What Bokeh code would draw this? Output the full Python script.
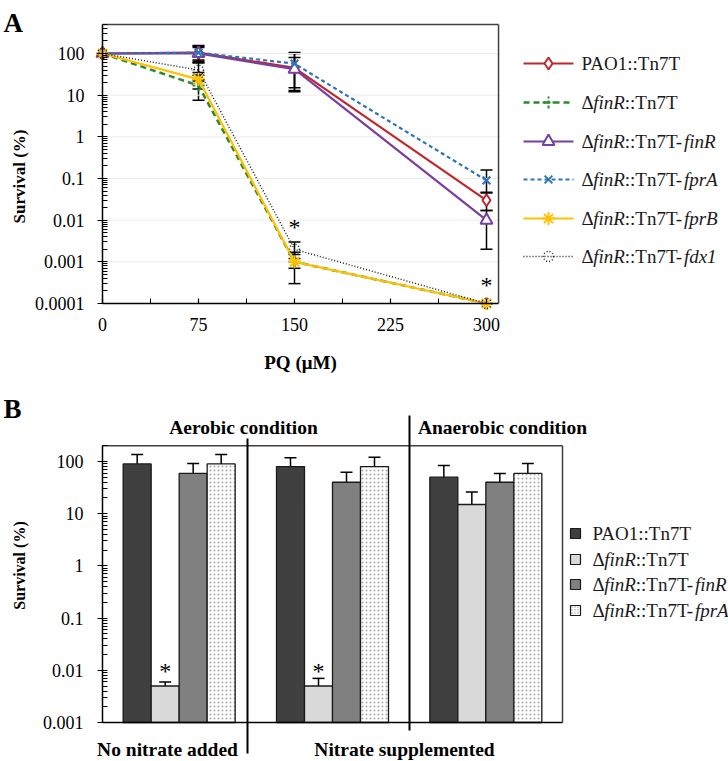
import math
from bokeh.plotting import figure
from bokeh.models import (Range1d, FixedTicker, CustomJSTickFormatter, ColumnDataSource,
                          Whisker, TeeHead)
from bokeh.layouts import column
from bokeh.embed import file_html
from bokeh.resources import INLINE
from bokeh.core.properties import value

FONT = "Liberation Serif"

# ---------------- Panel A data ----------------
pq_um = [0, 75, 150, 300]
pq_ticks = [0, 75, 150, 225, 300]
pq_minor = [37.5, 112.5, 187.5, 262.5]
a_labels = ["PAO1::Tn7T", "Δ_finR_::Tn7T", "Δ_finR_::Tn7T-_finR_",
            "Δ_finR_::Tn7T-_fprA_", "Δ_finR_::Tn7T-_fprB_", "Δ_finR_::Tn7T-_fdx1_"]
surv_pao1 = [100, 105, 45, 0.03]
lo_pao1 = [100, 60, 13, 0.017]
hi_pao1 = [100, 150, 100, 0.047]
surv_dfinr = [100, 17, 0.001, 0.0001]
lo_dfinr = [100, 7.5, 0.0003, 0.0001]
hi_dfinr = [100, 30, 0.0017, 0.0001]
surv_finr = [100, 100, 42, 0.01]
lo_finr = [100, 65, 12, 0.002]
hi_finr = [100, 140, 80, 0.017]
surv_fpra = [100, 105, 57, 0.09]
lo_fpra = [100, 70, 15, 0.045]
hi_fpra = [100, 155, 105, 0.16]
surv_fprb = [100, 24, 0.001, 0.0001]
lo_fprb = [100, 14, 0.0007, 0.0001]
hi_fprb = [100, 35, 0.0015, 0.0001]
surv_fdx1 = [100, 40, 0.002, 0.0001]
lo_fdx1 = [100, 22, 0.0012, 0.0001]
hi_fdx1 = [100, 60, 0.003, 0.0001]
sig_a_x = [150, 300]
sig_a_y = [0.0074, 0.0003]

y_ticks_a = [0.0001, 0.001, 0.01, 0.1, 1, 10, 100]
y_labels_a = ["0.0001", "0.001", "0.01", "0.1", "1", "10", "100"]

# ---------------- Panel B data ----------------
b_groups = ["No nitrate added", "Nitrate supplemented", "Anaerobic condition"]
b_labels = ["PAO1::Tn7T", "Δ_finR_::Tn7T", "Δ_finR_::Tn7T-_finR_", "Δ_finR_::Tn7T-_fprA_"]
b_pao1 = [90, 80, 50]
b_pao1_lo = [47, 43, 16.5]
b_pao1_hi = [136, 118, 84]
b_dfinr = [0.005, 0.005, 15]
b_dfinr_lo = [0.004, 0.003, 4.4]
b_dfinr_hi = [0.006, 0.007, 26]
b_finr = [59, 40, 40]
b_finr_lo = [30, 19, 20]
b_finr_hi = [92, 62, 59]
b_fpra = [90, 80, 59]
b_fpra_lo = [45, 38, 29]
b_fpra_hi = [136, 120, 92]
b_sig_group = [0, 1]
b_sig_y = [0.0107, 0.0107]
y_ticks_b = [0.001, 0.01, 0.1, 1, 10, 100]
y_labels_b = ["0.001", "0.01", "0.1", "1", "10", "100"]
b_top_labels = ["Aerobic condition", "Anaerobic condition"]
b_bottom_labels = ["No nitrate added", "Nitrate supplemented"]

# ---------------- helpers ----------------
REG = {' ': 250, '(': 333, ')': 333, '-': 333, '.': 250, ':': 278, '0': 500, '1': 500, '7': 500,
       'A': 722, 'O': 722, 'P': 556, 'T': 611, 'n': 500, 'R': 667, 'f': 333, 'i': 278, 'Δ': 612}
ITA = {'f': 278, 'i': 278, 'n': 500, 'R': 611, 'p': 500, 'r': 389, 'A': 611, 'B': 611,
       'd': 500, 'x': 444, '1': 500}


def runs(label, x, y, size, out):
    parts = label.split("_")
    off = 0.0
    for k, part in enumerate(parts):
        if not part:
            continue
        ital = k % 2 == 1
        tab = ITA if ital else REG
        out["x"].append(x)
        out["y"].append(y)
        out["text"].append(part)
        out["xo"].append(off)
        out["style"].append("italic" if ital else "normal")
        off += sum(tab.get(c, 500) for c in part) * size / 1000.0


def log_formatter(vals, labels):
    return CustomJSTickFormatter(args=dict(vals=vals, labels=labels), code="""
        let best = 0, bd = Infinity;
        for (let i = 0; i < vals.length; i++) {
            const d = Math.abs(Math.log10(vals[i]) - Math.log10(tick));
            if (d < bd) { bd = d; best = i; }
        }
        return labels[best];
    """)


def minor_list(lo_exp, hi_val):
    out = []
    for e in range(lo_exp, 4):
        for m in range(2, 10):
            v = m * 10 ** e
            if v <= hi_val:
                out.append(v)
    return out


def style_axis(ax, tick_size="18px"):
    ax.axis_line_color = "black"
    ax.axis_line_width = 1.5
    ax.major_tick_line_color = "black"
    ax.minor_tick_line_color = "black"
    ax.major_tick_line_width = 1.2
    ax.minor_tick_line_width = 1
    ax.major_label_text_font = FONT
    ax.major_label_text_font_size = tick_size
    ax.major_label_text_color = "black"


def txt(p, x, y, text, size, style="normal", align="center", baseline="middle", angle=0.0, **kw):
    p.text(x=x, y=y, text=text, text_font=value(FONT), text_font_size=size,
           text_font_style=style, text_align=align, text_baseline=baseline, angle=angle,
           text_color="black", **kw)


W = 728
# ================= Panel A =================
A_H = 380
AX0, APX = 102, 1.28            # pixel of x=0, pixels per µM
AY100, ADEC = 53, 250 / 6.0     # pixel of y=100, pixels per decade
a_box_x = 309.4
a_box_top = 500


def xa(px):
    return (px - AX0) / APX


def ya(py):
    return 10 ** (2 - (py - AY100) / ADEC)


pA = figure(width=W, height=A_H, x_range=Range1d(xa(0), xa(W)), y_range=Range1d(ya(A_H), ya(0)),
            y_axis_type="log", output_backend="svg", toolbar_location=None, min_border=0)
pA.outline_line_color = None
pA.grid.visible = False

# faint horizontal gridlines inside the box
pA.segment(x0=[0] * len(y_ticks_a), y0=y_ticks_a, x1=[a_box_x] * len(y_ticks_a), y1=y_ticks_a,
           line_color="#ececec", line_width=1)
# top / right box edges
pA.segment(x0=[0, a_box_x], y0=[a_box_top, 1e-4], x1=[a_box_x, a_box_x], y1=[a_box_top, a_box_top],
           line_color="#404040", line_width=1.5)

xa_ax = pA.xaxis[0]
ya_ax = pA.yaxis[0]
style_axis(xa_ax)
style_axis(ya_ax)
xa_ax.fixed_location = 1e-4
xa_ax.bounds = (0, a_box_x)
xa_ax.ticker = FixedTicker(ticks=pq_ticks, minor_ticks=pq_minor)
xa_ax.major_tick_in = 5
xa_ax.major_tick_out = 0
xa_ax.minor_tick_in = 5
xa_ax.minor_tick_out = 0
xa_ax.major_label_standoff = 14

ya_ax.fixed_location = 0
ya_ax.bounds = (1e-4, a_box_top)
ya_ax.ticker = FixedTicker(ticks=y_ticks_a, minor_ticks=minor_list(-4, a_box_top))
ya_ax.formatter = log_formatter(y_ticks_a, y_labels_a)
ya_ax.major_tick_in = 5
ya_ax.major_tick_out = 5
ya_ax.minor_tick_in = 5
ya_ax.minor_tick_out = 0
ya_ax.major_label_standoff = 13

# axis titles and panel letter
txt(pA, [xa(18.5)], [ya(176)], ["Survival (%)"], "17px", "bold", angle=math.pi / 2)
txt(pA, [xa(300)], [ya(362)], ["PQ (μM)"], "19px", "bold")
txt(pA, [xa(3)], [ya(22)], ["A"], "27px", "bold", align="left", baseline="alphabetic")

a_series = [
    (surv_pao1, lo_pao1, hi_pao1, dict(color="#c0272d", dash="solid", lw=2.2, marker="diamond", ms=12, fill="white", mdash="solid")),
    (surv_dfinr, lo_dfinr, hi_dfinr, dict(color="#2b8a2b", dash="6 4", lw=2.5, marker="cross", ms=12, fill=None, mdash="3 2")),
    (surv_finr, lo_finr, hi_finr, dict(color="#7a3da0", dash="solid", lw=2.2, marker="triangle", ms=12, fill="white", mdash="solid")),
    (surv_fpra, lo_fpra, hi_fpra, dict(color="#2e75b6", dash="4 3", lw=2.2, marker="x", ms=11, fill=None, mdash="solid")),
    (surv_fprb, lo_fprb, hi_fprb, dict(color="#ffc000", dash="solid", lw=2.2, marker="asterisk", ms=13, fill=None, mdash="solid")),
    (surv_fdx1, lo_fdx1, hi_fdx1, dict(color="#222222", dash="1 2", lw=1.5, marker="circle", ms=10, fill=None, mdash="1 2")),
]

for vals, lo, hi, st in a_series:
    pA.line(pq_um, vals, line_color=st["color"], line_width=st["lw"], line_dash=st["dash"])
    keep = [i for i in range(len(vals)) if hi[i] > lo[i]]
    src = ColumnDataSource(dict(x=[pq_um[i] for i in keep], lo=[lo[i] for i in keep],
                                hi=[hi[i] for i in keep]))
    pA.add_layout(Whisker(source=src, base="x", lower="lo", upper="hi", line_color="black",
                          line_width=1.5,
                          upper_head=TeeHead(size=12, line_width=1.5, line_color="black"),
                          lower_head=TeeHead(size=12, line_width=1.5, line_color="black")))
    pA.scatter(pq_um, vals, marker=st["marker"], size=st["ms"], line_color=st["color"],
               line_width=2 if st["marker"] != "circle" else 1.5,
               fill_color=st["fill"], line_dash=st["mdash"])

txt(pA, sig_a_x, sig_a_y, ["*"] * len(sig_a_x), "24px", y_offset=1)

# legend A
leg_rows = [63, 102, 141, 179, 218, 256]
LEG_FS = 19
tsrc = dict(x=[], y=[], text=[], xo=[], style=[])
for (vals, lo, hi, st), lab, py in zip(a_series, a_labels, leg_rows):
    yy = ya(py)
    pA.line([xa(523), xa(573)], [yy, yy], line_color=st["color"], line_width=st["lw"],
            line_dash=st["dash"])
    pA.scatter([xa(548)], [yy], marker=st["marker"], size=st["ms"], line_color=st["color"],
               line_width=2 if st["marker"] != "circle" else 1.5,
               fill_color=st["fill"], line_dash=st["mdash"])
    runs(lab, xa(581), yy, LEG_FS, tsrc)
pA.text(x="x", y="y", text="text", x_offset="xo", text_font_style="style",
        source=ColumnDataSource(tsrc), text_font=value(FONT), text_font_size=f"{LEG_FS}px",
        text_align="left", text_baseline="middle", text_color="#1a1a1a")

# ================= Panel B =================
B_H = 381
BX0, CAT_PX = 102, 460 / 3.0
BY100, BDEC = 81, 261 / 5.0
b_box_top = 200


def xb(px):
    return (px - BX0) / CAT_PX


def yb(py):
    return 10 ** (2 - (py - BY100) / BDEC)


pB = figure(width=W, height=B_H, x_range=Range1d(xb(0), xb(W)), y_range=Range1d(yb(B_H), yb(0)),
            y_axis_type="log", x_axis_location=None, output_backend="svg", toolbar_location=None,
            min_border=0)
pB.outline_line_color = None
pB.grid.visible = False
yb_ax = pB.yaxis[0]
style_axis(yb_ax)
yb_ax.fixed_location = 0
yb_ax.bounds = (0.001, b_box_top)
yb_ax.ticker = FixedTicker(ticks=y_ticks_b, minor_ticks=minor_list(-3, b_box_top))
yb_ax.formatter = log_formatter(y_ticks_b, y_labels_b)
yb_ax.major_tick_in = 5
yb_ax.major_tick_out = 5
yb_ax.minor_tick_in = 5
yb_ax.minor_tick_out = 0
yb_ax.major_label_standoff = 14

bw = 28 / CAT_PX
b_series = [
    (b_pao1, b_pao1_lo, b_pao1_hi, dict(fill="#404040", hatch=None)),
    (b_dfinr, b_dfinr_lo, b_dfinr_hi, dict(fill="#d9d9d9", hatch=None)),
    (b_finr, b_finr_lo, b_finr_hi, dict(fill="#808080", hatch=None)),
    (b_fpra, b_fpra_lo, b_fpra_hi, dict(fill="white", hatch="dot")),
]
for k, (vals, lo, hi, st) in enumerate(b_series):
    xs = [g + 0.5 + (k - 1.5) * bw for g in range(len(b_groups))]
    kw = {}
    if st["hatch"]:
        kw = dict(hatch_pattern=st["hatch"], hatch_color="#a8a8a8", hatch_scale=4, hatch_weight=1)
    pB.vbar(x=xs, top=vals, bottom=0.001, width=bw, fill_color=st["fill"], line_color="#1a1a1a",
            line_width=1.3, **kw)
    src = ColumnDataSource(dict(x=xs, lo=lo, hi=hi))
    pB.add_layout(Whisker(source=src, base="x", lower="lo", upper="hi", line_color="black",
                          line_width=1.5,
                          upper_head=TeeHead(size=12, line_width=1.5, line_color="black"),
                          lower_head=TeeHead(size=12, line_width=1.5, line_color="black")))

txt(pB, [g + 0.5 - 0.5 * bw for g in b_sig_group], b_sig_y, ["*"] * len(b_sig_group), "24px",
    y_offset=2)

# box lines
pB.segment(x0=[0, 3], y0=[b_box_top, 0.001], x1=[3, 3], y1=[b_box_top, b_box_top],
           line_color="#404040", line_width=1.5)
pB.segment(x0=[0], y0=[0.001], x1=[3], y1=[0.001], line_color="black", line_width=1.5)
# separators
pB.segment(x0=[xb(247), xb(409)], y0=[yb(58), yb(35)], x1=[xb(247), xb(409)],
           y1=[yb(373), yb(350)], line_color="black", line_width=2)
# condition labels, axis title, letter
txt(pB, [xb(243), xb(502)], [yb(47), yb(47)], b_top_labels, "19.5px", "bold")
txt(pB, [xb(167), xb(404)], [yb(369), yb(369)], b_bottom_labels, "19.5px", "bold")
txt(pB, [xb(18.5)], [yb(185)], ["Survival (%)"], "16px", "bold", angle=math.pi / 2)
txt(pB, [xb(3)], [yb(28)], ["B"], "27px", "bold", align="left", baseline="alphabetic")

# legend B
lb_rows = [153, 179, 204, 230]
tsrc_b = dict(x=[], y=[], text=[], xo=[], style=[])
for (vals, lo, hi, st), lab, py in zip(b_series, b_labels, lb_rows):
    kw = {}
    if st["hatch"]:
        kw = dict(hatch_pattern=st["hatch"], hatch_color="#9a9a9a", hatch_scale=3, hatch_weight=1)
    pB.scatter([xb(575)], [yb(py)], marker="square", size=10, fill_color=st["fill"],
               line_color="#1a1a1a", line_width=1.2, **kw)
    runs(lab, xb(592), yb(py), LEG_FS, tsrc_b)
pB.text(x="x", y="y", text="text", x_offset="xo", text_font_style="style",
        source=ColumnDataSource(tsrc_b), text_font=value(FONT), text_font_size=f"{LEG_FS}px",
        text_align="left", text_baseline="middle", text_color="#1a1a1a")

layout = column(pA, pB, spacing=0)
open("out.html", "w").write(file_html(layout, INLINE))
